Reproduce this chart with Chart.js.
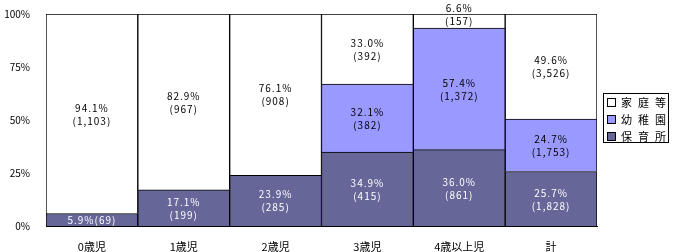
<!DOCTYPE html>
<html>
<head>
<meta charset="utf-8">
<script src="https://cdn.jsdelivr.net/npm/chart.js@4"></script>
<style>
	body { margin: 0; background: #fff; }
	#wrap { width: 676px; height: 252px; }
</style>
</head>
<body>
<div id="wrap"><canvas id="chart"></canvas></div>
<script>
const categories = ["0歳児", "1歳児", "2歳児", "3歳児", "4歳以上児", "計"]
const hoikusho = [5.9, 17.1, 23.9, 34.9, 36.0, 25.7]
const youchien = [null, null, null, 32.1, 57.4, 24.7]
const katei = [94.1, 82.9, 76.1, 33.0, 6.6, 49.6]
const hoikushoCount = ["69", "199", "285", "415", "861", "1,828"]
const youchienCount = [null, null, null, "382", "1,372", "1,753"]
const kateiCount = ["1,103", "967", "908", "392", "157", "3,526"]
const yTicks = [0, 25, 50, 75, 100]

const FONT = "'MS PGothic', 'Noto Sans CJK JP', sans-serif"

const barLabels = {
	id: "barLabels",
	afterDatasetsDraw(chart) {
		const ctx = chart.ctx
		const counts = [hoikushoCount, youchienCount, kateiCount]
		ctx.save()
		ctx.font = "10px " + FONT
		ctx.textAlign = "center"
		ctx.textBaseline = "middle"
		ctx.letterSpacing = "1px"
		chart.data.datasets.forEach((ds, d) => {
			chart.getDatasetMeta(d).data.forEach((bar, i) => {
				const v = ds.data[i]
				if (v === null) return
				const pct = v.toFixed(1) + "%"
				const cnt = "(" + counts[d][i] + ")"
				const cy = (bar.y + bar.base) / 2
				ctx.fillStyle = d === 0 ? "#ffffff" : "#000000"
				if (bar.base - bar.y < 18) {
					if (d === 0) {
						ctx.fillText(pct + cnt, bar.x, cy)
					} else {
						ctx.fillText(pct, bar.x, cy - 13)
						ctx.fillText(cnt, bar.x, cy)
					}
				} else {
					ctx.fillText(pct, bar.x, cy - 6)
					ctx.fillText(cnt, bar.x, cy + 7)
				}
			})
		})
		ctx.restore()
	}
}

const boxLegend = {
	id: "boxLegend",
	afterDraw(chart) {
		const ctx = chart.ctx
		const x = 603, y = 93, w = 65, h = 49
		ctx.save()
		ctx.strokeStyle = "#000"
		ctx.lineWidth = 1
		ctx.strokeRect(x + 0.5, y + 0.5, w, h)
		ctx.font = "11px " + FONT
		ctx.textBaseline = "middle"
		ctx.letterSpacing = "6px"
		const order = [2, 1, 0]
		order.forEach((d, k) => {
			const ds = chart.data.datasets[d]
			const ry = y + 9 + k * 17
			ctx.fillStyle = ds.backgroundColor
			ctx.fillRect(x + 4.5, ry - 3.5, 8, 8)
			ctx.strokeRect(x + 4.5, ry - 3.5, 8, 8)
			ctx.fillStyle = "#000"
			ctx.fillText(ds.label, x + 18, ry + 1)
		})
		ctx.restore()
	}
}

new Chart(document.getElementById("chart").getContext("2d"), {
	type: "bar",
	data: {
		labels: categories,
		datasets: [
			{
				label: "保育所",
				data: hoikusho,
				backgroundColor: "#666699",
				borderColor: "#000000",
				borderWidth: 1
			},
			{
				label: "幼稚園",
				data: youchien,
				backgroundColor: "#9999ff",
				borderColor: "#000000",
				borderWidth: 1
			},
			{
				label: "家庭等",
				data: katei,
				backgroundColor: "#ffffff",
				borderColor: "#000000",
				borderWidth: 1
			}
		]
	},
	options: {
		responsive: true,
		maintainAspectRatio: false,
		animation: false,
		categoryPercentage: 1,
		barPercentage: 1,
		layout: {
			padding: { left: 0, top: 0, right: 79, bottom: 0 }
		},
		scales: {
			x: {
				stacked: true,
				grid: { display: false },
				border: { display: true, color: "#000000" },
				ticks: {
					color: "#000000",
					font: { size: 11, family: FONT },
					padding: 6,
					maxRotation: 0
				},
				afterFit: s => { s.height = 26 }
			},
			y: {
				stacked: true,
				min: 0,
				max: 100,
				afterBuildTicks: s => { s.ticks = yTicks.map(v => ({ value: v })) },
				grid: { display: false },
				border: { display: true, color: "#000000" },
				ticks: {
					color: "#000000",
					font: { size: 10, family: FONT },
					padding: 8,
					callback: v => v + "%"
				},
				afterFit: s => { s.width = 46 }
			}
		},
		plugins: {
			legend: { display: false },
			tooltip: { enabled: false }
		}
	},
	plugins: [barLabels, boxLegend]
})
</script>
</body>
</html>
